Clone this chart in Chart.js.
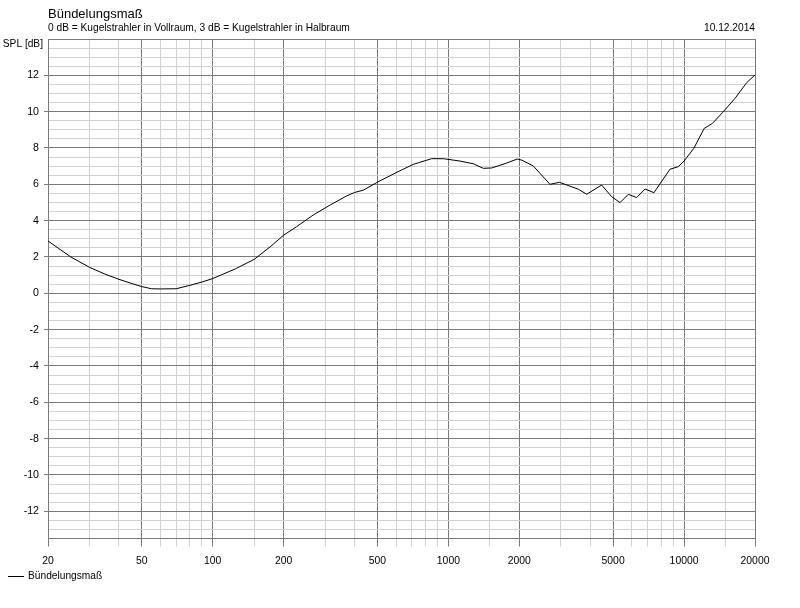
<!DOCTYPE html>
<html>
<head>
<meta charset="utf-8">
<script src="https://cdn.jsdelivr.net/npm/chart.js@4"></script>
<style>
  html, body { margin: 0; padding: 0; background: #fff; }
  #wrap { width: 800px; height: 608px; }
</style>
</head>
<body>
<div id="wrap"><canvas id="chart" width="800" height="608"></canvas></div>
<script>
// values
var freqs = [20, 25, 30, 35, 40, 45, 50, 55, 60, 70, 80, 90, 100, 125, 150, 175, 200,
  227, 267, 315, 370, 400, 436, 497, 604, 710, 849, 952, 1120, 1276, 1407, 1527, 1750,
  1960, 2050, 2292, 2698, 2958, 3560, 3863, 4470, 4930, 5348, 5800, 6290, 6830, 7450,
  8715, 9450, 10000, 11000, 12180, 13220, 14580, 16450, 18450, 20000];
var spl = [2.88, 2.0, 1.43, 1.05, 0.77, 0.55, 0.37, 0.25, 0.24, 0.25, 0.44, 0.62, 0.81, 1.35, 1.87, 2.55, 3.2,
  3.67, 4.31, 4.86, 5.36, 5.55, 5.68, 6.1, 6.66, 7.1, 7.41, 7.41, 7.28, 7.13, 6.88, 6.9, 7.15,
  7.39, 7.33, 7.01, 6.0, 6.11, 5.73, 5.45, 5.96, 5.32, 4.99, 5.45, 5.27, 5.74, 5.54,
  6.83, 6.97, 7.28, 7.98, 9.08, 9.36, 9.96, 10.73, 11.6, 12.02];

var xMajor = [20, 50, 100, 200, 500, 1000, 2000, 5000, 10000, 20000];
var xMinor = [30, 40, 60, 70, 80, 90, 150, 300, 400, 600, 700, 800, 900, 1500,
  3000, 4000, 6000, 7000, 8000, 9000, 15000];
var yMajor = [-12, -10, -8, -6, -4, -2, 0, 2, 4, 6, 8, 10, 12];
var yMin = -13.5, yMax = 14, yStep = 0.5;

var majorCol = '#7a7a7a';
var minorCol = '#d2d2d2';
var font = 'Liberation Sans, Arial, sans-serif';

var points = freqs.map(function (f, i) { return { x: f, y: spl[i] }; });

var textPlugin = {
  id: 'texts',
  afterDraw: function (chart) {
    var c = chart.ctx;
    var a = chart.chartArea;
    c.save();
    c.fillStyle = '#000';
    c.textBaseline = 'middle';
    c.font = '13px ' + font;
    c.textAlign = 'left';
    c.fillText('Bündelungsmaß', a.left, 14);
    c.font = '10.2px ' + font;
    c.fillText('0 dB = Kugelstrahler in Vollraum, 3 dB = Kugelstrahler in Halbraum', a.left, 28);
    c.textAlign = 'right';
    c.fillText('10.12.2014', a.right, 28);
    c.fillText('SPL [dB]', 43, 44);
    // legend
    c.textAlign = 'left';
    c.fillText('Bündelungsmaß', 28, 576);
    c.strokeStyle = '#000';
    c.lineWidth = 1;
    c.beginPath();
    c.moveTo(8, 576.5);
    c.lineTo(24, 576.5);
    c.stroke();
    c.restore();
  }
};

new Chart(document.getElementById('chart').getContext('2d'), {
  type: 'line',
  data: {
    datasets: [{
      label: 'Bündelungsmaß',
      data: points,
      borderColor: '#000',
      borderWidth: 1,
      pointRadius: 0,
      tension: 0,
      fill: false
    }]
  },
  options: {
    responsive: false,
    animation: false,
    layout: { padding: { left: 0, top: 39, right: 45, bottom: 0 } },
    plugins: {
      legend: { display: false },
      title: { display: false },
      tooltip: { enabled: false }
    },
    scales: {
      x: {
        type: 'logarithmic',
        min: 20,
        max: 20000,
        afterBuildTicks: function (scale) {
          scale.ticks = xMajor.concat(xMinor).sort(function (a, b) { return a - b; })
            .map(function (v) { return { value: v }; });
        },
        afterFit: function (scale) { scale.height = 69.5; },
        ticks: {
          autoSkip: false,
          maxRotation: 0,
          padding: 8,
          color: '#000',
          font: { family: font, size: 10.4 },
          callback: function (v) { return xMajor.indexOf(v) >= 0 ? String(v) : ''; }
        },
        grid: {
          tickLength: 8,
          color: function (ctx) { return xMajor.indexOf(ctx.tick && ctx.tick.value) >= 0 ? majorCol : minorCol; },
          tickColor: function (ctx) { return xMajor.indexOf(ctx.tick && ctx.tick.value) >= 0 ? majorCol : minorCol; }
        },
        border: { color: majorCol }
      },
      y: {
        min: yMin,
        max: yMax,
        afterBuildTicks: function (scale) {
          var t = [];
          for (var v = yMin; v <= yMax + 1e-9; v += yStep) t.push({ value: v });
          scale.ticks = t;
        },
        afterFit: function (scale) { scale.width = 48; },
        ticks: {
          autoSkip: false,
          padding: 5,
          color: '#000',
          font: { family: font, size: 10.6 },
          callback: function (v) { return yMajor.indexOf(v) >= 0 ? String(v) : ''; }
        },
        grid: {
          tickLength: 4,
          color: function (ctx) {
            var v = ctx.tick && ctx.tick.value;
            return (yMajor.indexOf(v) >= 0 || v === yMax || v === yMin) ? majorCol : minorCol;
          },
          tickColor: function (ctx) {
            var v = ctx.tick && ctx.tick.value;
            return yMajor.indexOf(v) >= 0 ? majorCol : 'rgba(0,0,0,0)';
          }
        },
        border: { color: majorCol }
      }
    }
  },
  plugins: [textPlugin]
});
</script>
</body>
</html>
